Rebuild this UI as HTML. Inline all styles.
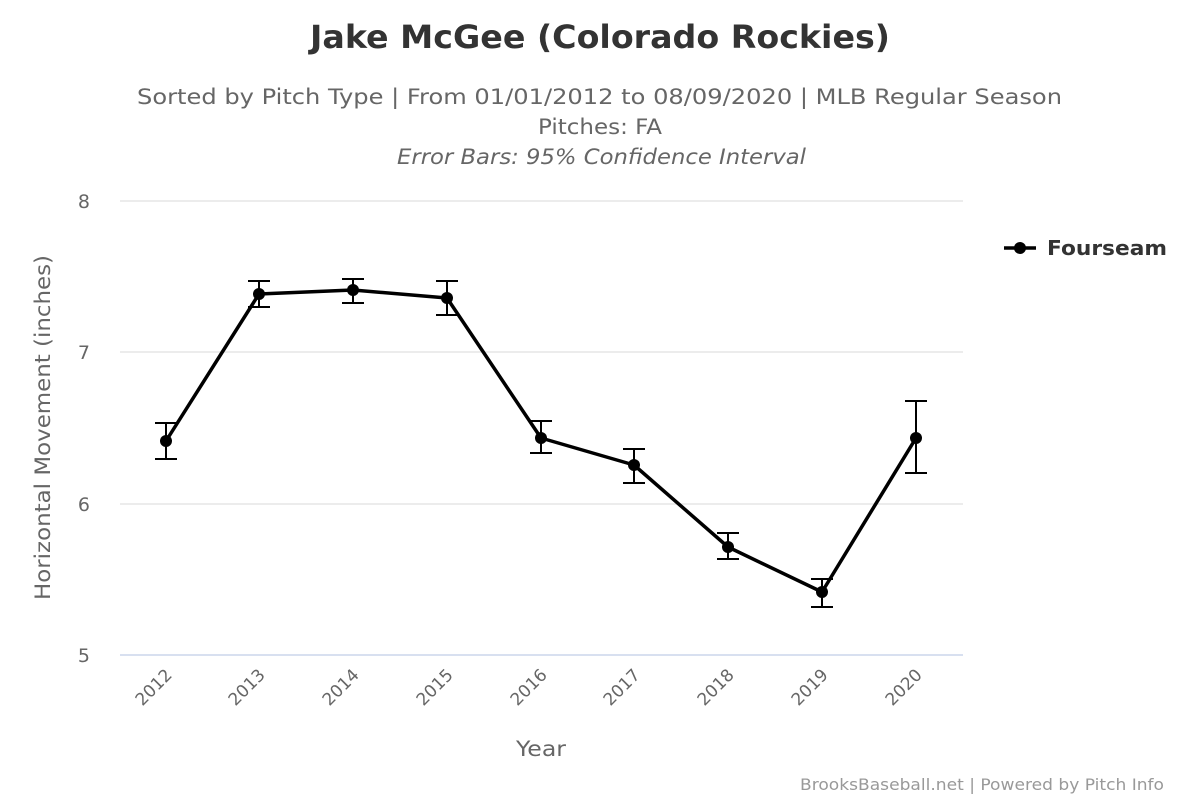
<!DOCTYPE html>
<html><head><meta charset="utf-8"><style>
html,body{margin:0;padding:0;background:#fff}
svg{display:block;font-family:"DejaVu Sans","Liberation Sans",sans-serif}
</style></head><body>
<svg width="1200" height="800" viewBox="0 0 1200 800" xmlns="http://www.w3.org/2000/svg">
<rect width="1200" height="800" fill="#fff"/>
<text x="310" y="48" font-size="32" font-weight="bold" fill="#333" textLength="580" lengthAdjust="spacingAndGlyphs">Jake McGee (Colorado Rockies)</text>
<text x="137" y="104" font-size="21" fill="#666" textLength="925" lengthAdjust="spacingAndGlyphs">Sorted by Pitch Type | From 01/01/2012 to 08/09/2020 | MLB Regular Season</text>
<text x="538" y="134" font-size="21" fill="#666" textLength="124" lengthAdjust="spacingAndGlyphs">Pitches: FA</text>
<text x="397" y="164" font-size="21" font-style="italic" fill="#666" textLength="409" lengthAdjust="spacingAndGlyphs">Error Bars: 95% Confidence Interval</text>
<g stroke="#e6e6e6" stroke-width="1.5">
<line x1="120" y1="201" x2="963" y2="201"/>
<line x1="120" y1="352" x2="963" y2="352"/>
<line x1="120" y1="504" x2="963" y2="504"/>
</g>
<line x1="120" y1="655" x2="963" y2="655" stroke="#ccd6eb" stroke-width="1.5"/>
<g font-size="19" fill="#666" text-anchor="end">
<text x="90" y="208">8</text><text x="90" y="359">7</text><text x="90" y="511">6</text><text x="90" y="662">5</text>
</g>
<text transform="translate(50,600) rotate(-90)" font-size="21" fill="#666" textLength="345" lengthAdjust="spacingAndGlyphs">Horizontal Movement (inches)</text>
<g font-size="17" fill="#666" text-anchor="end">
<text transform="translate(173,676) rotate(-45)">2012</text>
<text transform="translate(266,676) rotate(-45)">2013</text>
<text transform="translate(360,676) rotate(-45)">2014</text>
<text transform="translate(454,676) rotate(-45)">2015</text>
<text transform="translate(548,676) rotate(-45)">2016</text>
<text transform="translate(641,676) rotate(-45)">2017</text>
<text transform="translate(735,676) rotate(-45)">2018</text>
<text transform="translate(829,676) rotate(-45)">2019</text>
<text transform="translate(923,676) rotate(-45)">2020</text>
</g>
<text x="516" y="756" font-size="21" fill="#666" textLength="50" lengthAdjust="spacingAndGlyphs">Year</text>
<g stroke="#000" stroke-width="2" fill="none">
<path d="M166 423V459M155 423H177M155 459H177"/>
<path d="M259 281V307M248 281H270M248 307H270"/>
<path d="M353 279V303M342 279H364M342 303H364"/>
<path d="M447 281V315M436 281H458M436 315H458"/>
<path d="M541 421V453M530 421H552M530 453H552"/>
<path d="M634 449V483M623 449H645M623 483H645"/>
<path d="M728 533V559M717 533H739M717 559H739"/>
<path d="M822 579V607M811 579H833M811 607H833"/>
<path d="M916 401V473M905 401H927M905 473H927"/>
</g>
<polyline points="166,441 259,294 353,290 447,298 541,438 634,465 728,547 822,592 916,438" fill="none" stroke="#000" stroke-width="3.5" stroke-linejoin="round"/>
<g fill="#000">
<circle cx="166" cy="441" r="6"/><circle cx="259" cy="294" r="6"/><circle cx="353" cy="290" r="6"/>
<circle cx="447" cy="298" r="6"/><circle cx="541" cy="438" r="6"/><circle cx="634" cy="465" r="6"/>
<circle cx="728" cy="547" r="6"/><circle cx="822" cy="592" r="6"/><circle cx="916" cy="438" r="6"/>
</g>
<line x1="1004" y1="248" x2="1036" y2="248" stroke="#000" stroke-width="3.5"/>
<circle cx="1020" cy="248" r="6" fill="#000"/>
<text x="1047" y="255" font-size="20" font-weight="bold" fill="#333" textLength="120" lengthAdjust="spacingAndGlyphs">Fourseam</text>
<text x="800" y="790" font-size="16" fill="#999" textLength="364" lengthAdjust="spacingAndGlyphs">BrooksBaseball.net | Powered by Pitch Info</text>
</svg>
</body></html>
